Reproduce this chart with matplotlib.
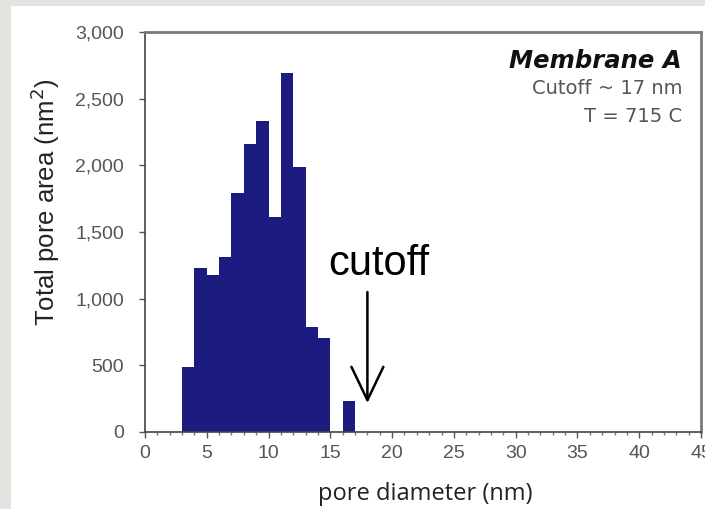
import matplotlib
matplotlib.use('Agg')
import matplotlib.pyplot as plt
from matplotlib.patches import Rectangle
from matplotlib.ticker import MultipleLocator, FuncFormatter

# histogram of pore diameters, 1 nm bins
bin_left = [3, 4, 5, 6, 7, 8, 9, 10, 11, 12, 13, 14, 15, 16]
pore_area = [490, 1227, 1177, 1315, 1790, 2157, 2335, 1610, 2695, 1990, 785, 702, 0, 232]

x_ticks = [0, 5, 10, 15, 20, 25, 30, 35, 40, 45]
y_ticks = [0, 500, 1000, 1500, 2000, 2500, 3000]

cutoff_x = 18
bar_color = '#1c1c80'
tick_font = ['Liberation Sans', 'DejaVu Sans']

fig = plt.figure(figsize=(7.05, 5.09), dpi=100)
fig.patch.set_facecolor('#e3e3df')
# white card behind the chart
fig.add_artist(Rectangle((11 / 705, 0), 694 / 705, 503 / 509, transform=fig.transFigure,
                         facecolor='white', edgecolor='none', zorder=0))

ax = fig.add_axes([145 / 705, 77 / 509, 556 / 705, 400 / 509])
ax.set_facecolor('white')

ax.bar(bin_left, pore_area, width=1.0, align='edge', color=bar_color, edgecolor='none')

ax.set_xlim(0, 45)
ax.set_ylim(0, 3000)
ax.set_xticks(x_ticks)
ax.xaxis.set_minor_locator(MultipleLocator(1))
ax.set_yticks(y_ticks)
ax.yaxis.set_major_formatter(FuncFormatter(lambda v, p: f'{int(v):,}'))

ax.tick_params(axis='both', which='major', length=4, width=1, color='#555555',
               labelcolor='#555555', labelsize=14)
ax.tick_params(axis='x', which='major', pad=5)
ax.tick_params(axis='y', which='major', pad=11)
ax.tick_params(axis='x', which='minor', length=2, width=1, color='#777777')
for lab in ax.get_xticklabels() + ax.get_yticklabels():
    lab.set_family(tick_font)

ax.spines['left'].set_color('#444444')
ax.spines['bottom'].set_color('#444444')
ax.spines['left'].set_linewidth(1.2)
ax.spines['bottom'].set_linewidth(1.2)
ax.spines['top'].set_color('#7a7a7a')
ax.spines['right'].set_color('#7a7a7a')
ax.spines['top'].set_linewidth(2)
ax.spines['right'].set_linewidth(2)

fig.text(45 / 705, 1 - 202 / 509, 'Total pore area (nm$^2$)', rotation=90,
         ha='center', va='center', fontsize=18.5, family=['Liberation Sans'], color='#222222')
fig.text(425 / 705, 1 - 500 / 509, 'pore diameter (nm)', ha='center', va='baseline',
         fontsize=17, family=['Open Sans'], color='#222222')

ax.text(0.966, 0.9275, 'Membrane A', transform=ax.transAxes, ha='right', va='center',
        fontsize=17.5, fontweight='bold', fontstyle='italic', family=['DejaVu Sans'],
        color='#111111')
ax.text(0.966, 0.86, 'Cutoff ~ 17 nm', transform=ax.transAxes, ha='right', va='center',
        fontsize=14, family=['DejaVu Sans'], color='#555555')
ax.text(0.966, 0.7875, 'T = 715 C', transform=ax.transAxes, ha='right', va='center',
        fontsize=14, family=['DejaVu Sans'], color='#555555')

ax.text(18.93, 1177, 'cutoff', ha='center', va='baseline', fontsize=30,
        family=['Liberation Sans'], color='black')
ax.annotate('', xy=(cutoff_x, 217), xytext=(cutoff_x, 1050),
            arrowprops=dict(arrowstyle='->,head_length=2.4,head_width=1.15', lw=1.8,
                            color='black', shrinkA=0, shrinkB=0))

fig.savefig('out.png', dpi=100, facecolor=fig.get_facecolor())
